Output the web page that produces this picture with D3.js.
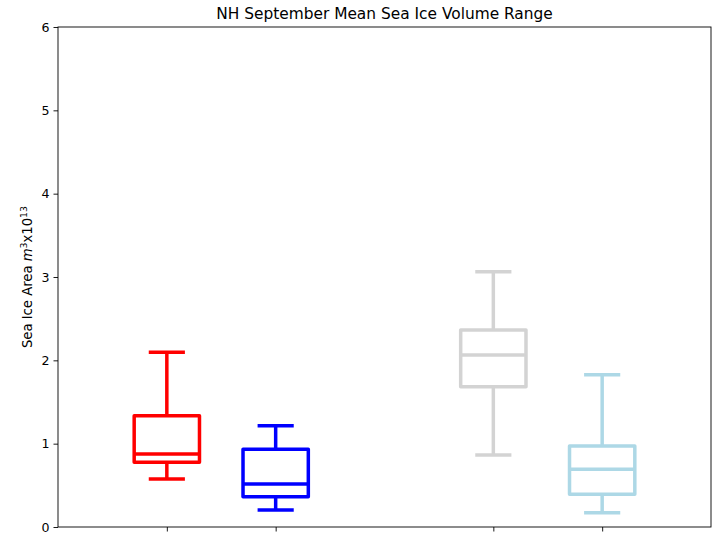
<!DOCTYPE html>
<html>
<head>
<meta charset="utf-8">
<script src="https://cdn.jsdelivr.net/npm/d3@7"></script>
<style>
  body { margin: 0; background: #fff; }
  text { font-family: "DejaVu Sans", sans-serif; fill: #000; }
</style>
</head>
<body>
<div id="chart"></div>
<script>
// box stats, positions 1,2,4,5 on the x axis
var positions = [1, 2, 4, 5];
var colors = ["red", "blue", "lightgray", "lightblue"];
var whiskLow = [0.576, 0.204, 0.864, 0.172];
var q1 = [0.776, 0.364, 1.684, 0.392];
var median = [0.876, 0.516, 2.064, 0.692];
var q3 = [1.336, 0.932, 2.364, 0.972];
var whiskHigh = [2.097, 1.216, 3.064, 1.828];
var yTicks = [0, 1, 2, 3, 4, 5, 6];

var width = 712, height = 540;
var margin = {top: 27, right: 1, bottom: 13, left: 58};

var svg = d3.select("#chart").append("svg")
    .attr("width", width)
    .attr("height", height);

var x = d3.scaleLinear().domain([0, 6]).range([margin.left, width - margin.right]);
var y = d3.scaleLinear().domain([0, 6]).range([height - margin.bottom, margin.top]);

var boxW = 0.6, capW = 0.3;

var boxes = positions.map(function(p, i) {
  return {p: p, c: colors[i], lo: whiskLow[i], q1: q1[i], med: median[i], q3: q3[i], hi: whiskHigh[i]};
});

var g = svg.append("g");

var b = g.selectAll(".box").data(boxes).enter().append("g")
    .attr("class", "box")
    .style("stroke", function(d) { return d.c; })
    .style("stroke-width", 3.5)
    .style("fill", "none");

// whiskers
b.append("line")
    .attr("x1", function(d) { return x(d.p); })
    .attr("x2", function(d) { return x(d.p); })
    .attr("y1", function(d) { return y(d.q3); })
    .attr("y2", function(d) { return y(d.hi); });
b.append("line")
    .attr("x1", function(d) { return x(d.p); })
    .attr("x2", function(d) { return x(d.p); })
    .attr("y1", function(d) { return y(d.q1); })
    .attr("y2", function(d) { return y(d.lo); });

// caps
["hi", "lo"].forEach(function(k) {
  b.append("line")
      .attr("stroke-linecap", "square")
      .attr("x1", function(d) { return x(d.p - capW / 2); })
      .attr("x2", function(d) { return x(d.p + capW / 2); })
      .attr("y1", function(d) { return y(d[k]); })
      .attr("y2", function(d) { return y(d[k]); });
});

// box
b.append("rect")
    .attr("stroke-linejoin", "round")
    .attr("x", function(d) { return x(d.p - boxW / 2); })
    .attr("width", function(d) { return x(d.p + boxW / 2) - x(d.p - boxW / 2); })
    .attr("y", function(d) { return y(d.q3); })
    .attr("height", function(d) { return y(d.q1) - y(d.q3); });

// median
b.append("line")
    .attr("x1", function(d) { return x(d.p - boxW / 2); })
    .attr("x2", function(d) { return x(d.p + boxW / 2); })
    .attr("y1", function(d) { return y(d.med); })
    .attr("y2", function(d) { return y(d.med); });

// axes
var yAxis = d3.axisLeft(y).tickValues(yTicks).tickSize(4.5).tickPadding(4).tickFormat(d3.format("d"));
var xAxis = d3.axisBottom(x).tickValues(positions).tickSize(4.5).tickFormat("");

var ya = svg.append("g").attr("transform", "translate(" + margin.left + ",0)").call(yAxis);
var xa = svg.append("g").attr("transform", "translate(0," + (height - margin.bottom) + ")").call(xAxis);
[ya, xa].forEach(function(a) {
  a.select(".domain").remove();
  a.selectAll("line").attr("stroke", "#000").attr("stroke-width", 0.9);
  a.selectAll("text").style("font-size", "12.6px").style("font-family", "DejaVu Sans");
});

// frame
svg.append("rect")
    .attr("x", margin.left)
    .attr("y", margin.top)
    .attr("width", width - margin.right - margin.left)
    .attr("height", height - margin.bottom - margin.top)
    .attr("fill", "none")
    .attr("stroke", "#000")
    .attr("stroke-width", 0.9);

// title
svg.append("text")
    .attr("x", (margin.left + width - margin.right) / 2)
    .attr("y", 19)
    .attr("text-anchor", "middle")
    .style("font-size", "15.4px")
    .text("NH September Mean Sea Ice Volume Range");

// y label with superscripts
var yl = svg.append("text")
    .attr("transform", "translate(32," + ((margin.top + height - margin.bottom) / 2) + ") rotate(-90)")
    .attr("text-anchor", "middle")
    .style("font-size", "13.2px");
yl.append("tspan").text("Sea Ice Area ");
yl.append("tspan").style("font-style", "italic").text("m");
yl.append("tspan").attr("dy", -5.5).style("font-size", "9.4px").text("3");
yl.append("tspan").attr("dy", 5.5).text("x10");
yl.append("tspan").attr("dy", -5.5).style("font-size", "9.4px").text("13");
</script>
</body>
</html>
